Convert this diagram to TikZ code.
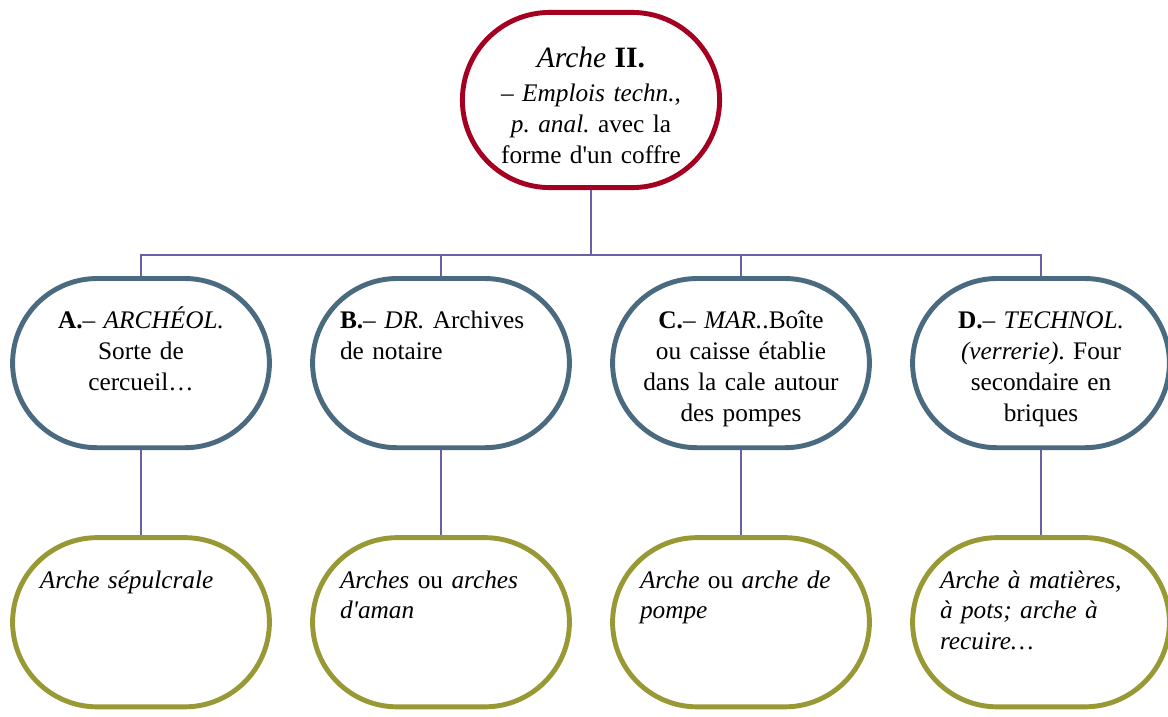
\documentclass[tikz,border=0pt]{standalone}
\usepackage{fontspec}
\setmainfont{Liberation Serif}
\usetikzlibrary{positioning,shapes.misc}
\frenchspacing
\definecolor{archred}{RGB}{164,0,33}
\definecolor{slateblue}{RGB}{74,106,128}
\definecolor{olivebox}{RGB}{152,152,52}
\definecolor{linkpurple}{RGB}{110,95,165}
\tikzset{
  blob/.style={rounded rectangle, draw, line width=3.5pt, fill=white,
               inner ysep=0pt, text width=5.05cm, font=\fontsize{18}{22}\selectfont},
  rootnode/.style={blob, draw=archred, inner xsep=-1.5cm, minimum width=6.43cm, minimum height=4.38cm,
                   align=center, text height=1.39cm, text depth=2.99cm},
  catnode/.style={blob, draw=slateblue, inner xsep=-1.43cm, minimum width=6.42cm, minimum height=4.23cm,
                  align=center, text height=1.26cm, text depth=2.97cm},
  subnode/.style={blob, draw=olivebox, inner xsep=-1.43cm, minimum width=6.42cm, minimum height=4.23cm,
                  align=left, text height=1.26cm, text depth=2.97cm},
  leftish/.style={align=left},
  link/.style={draw=linkpurple, line width=1.2pt},
}

\begin{document}
\begin{tikzpicture}
  \useasboundingbox (0,0) rectangle (29.2,-17.925);

  \node[rootnode] (root) at (14.775,-2.5) {{\fontsize{21}{24}\selectfont\textit{Arche} \textbf{II.}}\\[2pt]
    – \textit{Emplois techn.},\\ \textit{p. anal.} avec la\\ forme d\textquotesingle un coffre};

  \node[catnode] (catA) [below=2.15cm of root, xshift=-11.25cm] {\textbf{A.}– \textit{ARCHÉOL.}\\ Sorte de\\ cercueil…};
  \node[catnode, leftish] (catB) [below=2.15cm of root, xshift=-3.75cm] {\textbf{B.}– \textit{DR.} Archives\\ de notaire};
  \node[catnode] (catC) [below=2.15cm of root, xshift=3.75cm] {\textbf{C.}– \textit{MAR.}.Boîte\\ ou caisse établie\\ dans la cale autour\\ des pompes};
  \node[catnode] (catD) [below=2.15cm of root, xshift=11.25cm] {\textbf{D.}– \textit{TECHNOL.}\\ \textit{(verrerie)}. Four\\ secondaire en\\ briques};

  \node[subnode] (subA) [below=2.125cm of catA] {\textit{Arche sépulcrale}};
  \node[subnode] (subB) [below=2.125cm of catB] {\textit{Arches} ou \textit{arches}\\ \textit{d\textquotesingle aman}};
  \node[subnode] (subC) [below=2.125cm of catC] {\textit{Arche} ou \textit{arche de}\\ \textit{pompe}};
  \node[subnode] (subD) [below=2.125cm of catD] {\textit{Arche à matières,}\\ \textit{à pots; arche à}\\ \textit{recuire…}};

  \foreach \c in {catA,catB,catC,catD}
    \draw[link] (root.south) -- ++(0,-1.625) -| (\c.north);
  \foreach \c/\s in {catA/subA,catB/subB,catC/subC,catD/subD}
    \draw[link] (\c.south) -- (\s.north);
\end{tikzpicture}
\end{document}
